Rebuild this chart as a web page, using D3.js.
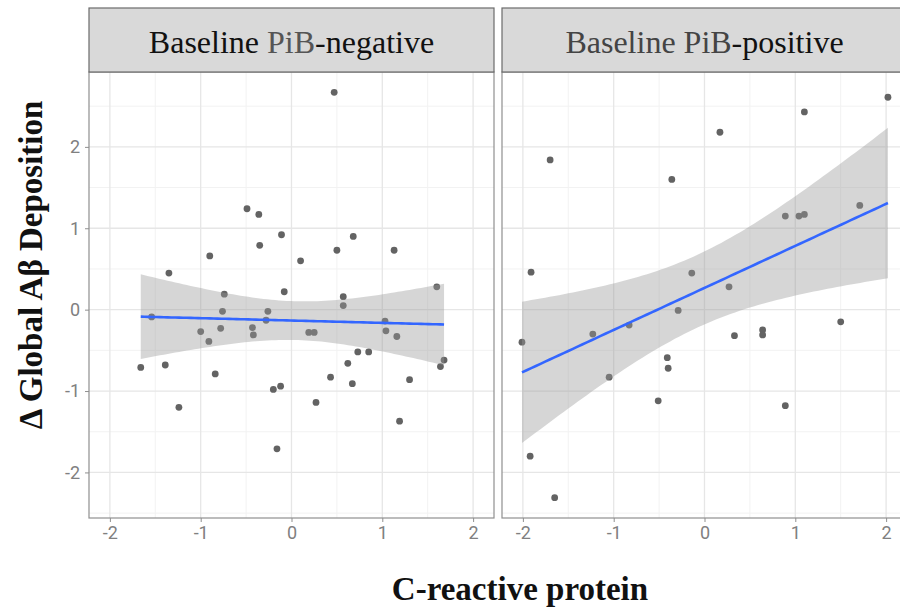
<!DOCTYPE html>
<html>
<head>
<meta charset="utf-8">
<script src="https://cdn.jsdelivr.net/npm/d3@7"></script>
<style>
  body { margin: 0; background: #fff; }
  svg { display: block; }
</style>
</head>
<body>
<svg id="chart" width="900" height="611"></svg>
<script>
// Baseline PiB-negative panel (CRP z-score, change in global amyloid)
const negX = [0.47, -0.49, -0.36, -0.11, -0.35, 0.68, -0.90, 0.50, 1.13, 0.10,
    -1.35, -0.74, -0.08, 0.57, 1.60, -1.54, -0.76, -0.26, 0.57, -0.28,
    1.03, -1.00, -0.78, -0.43, -0.42, 0.19, 0.25, 1.04, 1.16, -0.91,
    0.73, 0.85, 0.62, 1.68, 1.64, -1.66, -1.39, -0.84, 0.43, 0.67,
    1.30, -0.20, -0.12, -1.24, 0.27, 1.19, -0.16];
const negY = [2.67, 1.24, 1.17, 0.92, 0.79, 0.90, 0.66, 0.73, 0.73, 0.60,
    0.45, 0.19, 0.22, 0.16, 0.28, -0.09, -0.02, -0.02, 0.05, -0.13,
    -0.14, -0.27, -0.23, -0.22, -0.31, -0.28, -0.28, -0.26, -0.33, -0.39,
    -0.52, -0.52, -0.66, -0.62, -0.70, -0.71, -0.68, -0.79, -0.83, -0.91,
    -0.86, -0.98, -0.94, -1.20, -1.14, -1.37, -1.71];

// Baseline PiB-positive panel
const posX = [2.02, 1.10, 0.17, -1.70, -0.36, 1.71, 0.89, 1.04, 1.10, -1.91,
    -0.14, 0.27, -0.29, -2.01, -1.23, -0.83, 0.33, 0.64, 0.64, 1.50,
    -0.41, -0.40, -1.05, -0.51, 0.89, -1.92, -1.65];
const posY = [2.61, 2.43, 2.18, 1.84, 1.60, 1.28, 1.15, 1.15, 1.17, 0.46,
    0.45, 0.28, -0.01, -0.40, -0.30, -0.19, -0.32, -0.25, -0.31, -0.15,
    -0.59, -0.72, -0.83, -1.12, -1.18, -1.80, -2.31];

const xTicks = [-2, -1, 0, 1, 2];
const yTicks = [-2, -1, 0, 1, 2];

const svg = d3.select("#chart");
const W = +svg.attr("width"), H = +svg.attr("height");
svg.append("rect").attr("width", W).attr("height", H).attr("fill", "#fff");

const pTop = 72, pBottom = 518, stripTop = 8;
const panelW = 405;
const serif = "'Liberation Serif', 'Times New Roman', serif";
const sans = "Roboto, 'DejaVu Sans', sans-serif";

const y = d3.scaleLinear().domain([-2.56, 2.92]).range([pBottom, pTop]);

// t quantile approx (Cornish-Fisher from z)
function tq(df) {
    const z = 1.959964;
    return z + (z ** 3 + z) / (4 * df) + (5 * z ** 5 + 16 * z ** 3 + 3 * z) / (96 * df * df);
}

// same thing geom_smooth(method = "lm") does
function lmBand(xs, ys) {
    const n = xs.length;
    const mx = d3.mean(xs), my = d3.mean(ys);
    let sxx = 0, sxy = 0;
    for (let i = 0; i < n; i++) {
        sxx += (xs[i] - mx) ** 2;
        sxy += (xs[i] - mx) * (ys[i] - my);
    }
    const b = sxy / sxx, a = my - b * mx;
    let sse = 0;
    for (let i = 0; i < n; i++) sse += (ys[i] - a - b * xs[i]) ** 2;
    const s = Math.sqrt(sse / (n - 2));
    const t = tq(n - 2);
    const [lo, hi] = d3.extent(xs);
    return d3.range(80).map(k => {
        const xv = lo + (hi - lo) * k / 79;
        const fit = a + b * xv;
        const se = s * Math.sqrt(1 / n + (xv - mx) ** 2 / sxx);
        return { x: xv, fit: fit, lo: fit - t * se, hi: fit + t * se };
    });
}

function panel(x0, xs, ys, labelParts) {
    const x = d3.scaleLinear().domain([-2.23, 2.23]).range([x0, x0 + panelW]);
    const g = svg.append("g");

    // grid
    const minor = d3.range(-2.5, 3, 1);
    g.selectAll(".gx-minor").data(minor.filter(v => v > -2.23 && v < 2.23)).enter().append("line")
        .attr("x1", d => x(d)).attr("x2", d => x(d)).attr("y1", pTop).attr("y2", pBottom)
        .attr("stroke", "#f2f2f2").attr("stroke-width", 1);
    g.selectAll(".gy-minor").data(minor).enter().append("line")
        .attr("x1", x0).attr("x2", x0 + panelW).attr("y1", d => y(d)).attr("y2", d => y(d))
        .attr("stroke", "#f2f2f2").attr("stroke-width", 1);
    g.selectAll(".gx").data(xTicks).enter().append("line")
        .attr("x1", d => x(d)).attr("x2", d => x(d)).attr("y1", pTop).attr("y2", pBottom)
        .attr("stroke", "#e6e6e6").attr("stroke-width", 1.3);
    g.selectAll(".gy").data(yTicks).enter().append("line")
        .attr("x1", x0).attr("x2", x0 + panelW).attr("y1", d => y(d)).attr("y2", d => y(d))
        .attr("stroke", "#e6e6e6").attr("stroke-width", 1.3);

    // points
    g.selectAll("circle").data(xs.map((v, i) => [v, ys[i]])).enter().append("circle")
        .attr("cx", d => x(d[0])).attr("cy", d => y(d[1])).attr("r", 3.4)
        .attr("fill", "#636363");

    // smooth
    const band = lmBand(xs, ys);
    g.append("path").datum(band)
        .attr("d", d3.area().x(d => x(d.x)).y0(d => y(d.lo)).y1(d => y(d.hi)))
        .attr("fill", "#999").attr("fill-opacity", 0.4);
    g.append("path").datum(band)
        .attr("d", d3.line().x(d => x(d.x)).y(d => y(d.fit)))
        .attr("fill", "none").attr("stroke", "#3366FF").attr("stroke-width", 2.6);

    // border
    g.append("rect").attr("x", x0).attr("y", pTop).attr("width", panelW).attr("height", pBottom - pTop)
        .attr("fill", "none").attr("stroke", "#8f8f8f").attr("stroke-width", 1.2);

    // x axis
    const ax = g.append("g").attr("transform", `translate(0,${pBottom})`)
        .call(d3.axisBottom(x).tickValues(xTicks).tickSize(4).tickPadding(4).tickFormat(d => d < 0 ? "-" + Math.abs(d) : d));
    ax.select(".domain").remove();
    ax.selectAll("line").attr("stroke", "#8f8f8f");
    ax.selectAll("text").attr("fill", "#808080").attr("font-size", 18).attr("font-family", sans);

    // strip
    g.append("rect").attr("x", x0).attr("y", stripTop).attr("width", panelW).attr("height", pTop - stripTop)
        .attr("fill", "#d9d9d9").attr("stroke", "#6b6b6b").attr("stroke-width", 1.2);
    const st = g.append("text").attr("x", x0 + panelW / 2).attr("y", 53)
        .attr("text-anchor", "middle").attr("font-family", serif).attr("font-size", 32);
    labelParts.forEach(p => st.append("tspan").attr("fill", p[1]).text(p[0]));
    return x;
}

panel(89, negX, negY, [["Baseline ", "#111"], ["PiB", "#555"], ["-negative", "#111"]]);
panel(502, posX, posY, [["Baseline PiB", "#444"], ["-positive", "#111"]]);

// y axis (left panel only)
const ay = svg.append("g").attr("transform", "translate(89,0)")
    .call(d3.axisLeft(y).tickValues(yTicks).tickSize(4).tickPadding(5).tickFormat(d => d < 0 ? "-" + Math.abs(d) : d));
ay.select(".domain").remove();
ay.selectAll("line").attr("stroke", "#8f8f8f");
ay.selectAll("text").attr("fill", "#808080").attr("font-size", 18).attr("font-family", sans);

// titles
svg.append("text").attr("x", 520).attr("y", 600).attr("text-anchor", "middle")
    .attr("font-family", serif).attr("font-weight", "bold")
    .attr("font-size", 33).attr("fill", "#111").text("C-reactive protein");
svg.append("text").attr("transform", "translate(42,265) rotate(-90)").attr("text-anchor", "middle")
    .attr("font-family", serif).attr("font-weight", "bold")
    .attr("font-size", 33).attr("fill", "#111").text("Δ Global Aβ Deposition");
</script>
</body>
</html>
